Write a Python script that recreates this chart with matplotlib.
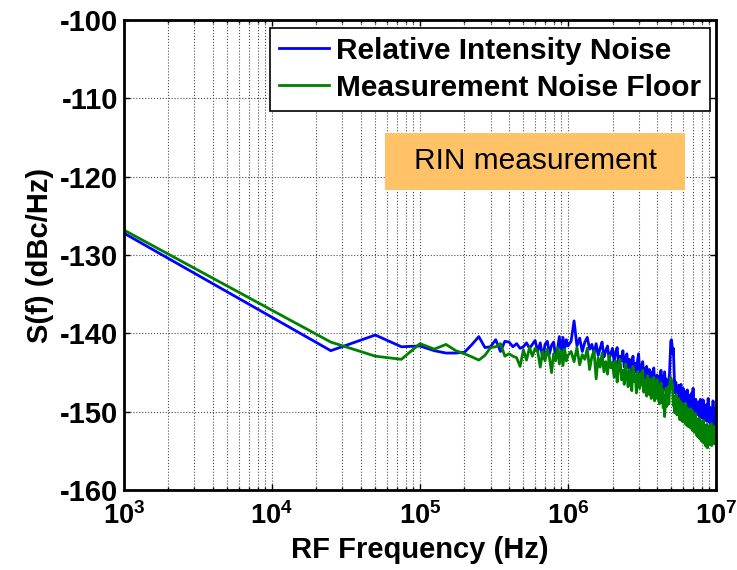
import matplotlib
matplotlib.use("Agg")
import matplotlib.pyplot as plt
from matplotlib.patches import Rectangle
from matplotlib.ticker import LogLocator, NullFormatter, FixedLocator

plt.rcParams['font.family'] = ['Liberation Sans', 'DejaVu Sans']
plt.rcParams['axes.unicode_minus'] = False
plt.rcParams['mathtext.fontset'] = 'custom'
plt.rcParams['mathtext.rm'] = 'Liberation Sans:bold'
plt.rcParams['mathtext.bf'] = 'Liberation Sans:bold'

# frequency grid (kHz): one low point, 25 kHz bins up to 1 MHz, 50 kHz bins above
freq_low_khz = [1] + list(range(25, 1001, 25))
freq_high_khz = list(range(1050, 10001, 50))

rin_low = [-127.2, -142.2, -140.2, -141.7, -141.6, -142.2, -142.5, -142.5, -142.4,
           -141.4, -140.4, -141.8, -141.7, -140.8, -142.3, -141.0, -141.1, -141.7,
           -141.3, -141.9, -141.7, -141.2, -141.9, -141.4, -140.9, -142.3, -141.2,
           -143.2, -141.4, -141.0, -142.6, -141.5, -141.1, -142.9, -142.0, -140.4,
           -142.6, -140.5, -142.0, -140.8, -141.6]

floor_low = [-126.8, -141.1, -142.9, -143.3, -141.3, -142.0, -141.4, -142.2, -142.6,
             -143.0, -143.4, -142.8, -141.8, -141.7, -141.3, -142.9, -142.6, -142.9,
             -143.1, -144.2, -142.1, -143.4, -141.8, -142.9, -141.9, -142.3, -144.3,
             -142.3, -143.5, -142.0, -143.1, -145.0, -142.6, -143.5, -141.8, -143.9,
             -142.2, -144.1, -142.0, -143.5, -142.8]

rin_high = [
    -141.0, -138.4, -141.6, -140.6, -142.3, -141.1, -140.5, -142.0, -141.4, -142.6,
    -141.3, -142.8, -141.9, -141.1, -143.0, -142.2, -141.6, -143.4, -142.5, -141.9,
    -143.6, -142.4, -141.8, -143.9, -142.9, -143.5, -142.2, -144.3, -143.1, -142.6,
    -144.4, -143.3, -144.9, -143.7, -142.9, -144.6, -143.8, -145.0, -143.5, -142.6,
    -144.8, -145.5, -144.1, -143.6, -145.4, -144.5, -145.9, -144.2, -145.1, -146.0,
    -144.6, -145.7, -144.9, -146.3, -145.2, -144.4, -146.1, -145.5, -146.6, -145.3,
    -146.4, -145.6, -147.0, -145.9, -144.7, -146.8, -146.0, -147.3, -145.4, -144.9,
    -146.9, -145.8, -147.4, -146.3, -147.1, -146.0, -145.2, -143.1, -141.0, -140.8,
    -141.5, -142.6, -141.9, -144.4, -146.6, -147.6, -146.2, -148.0, -146.9, -147.4,
    -148.2, -146.6, -147.8, -148.6, -147.1, -146.5, -148.4, -147.5, -148.9, -147.0,
    -148.1, -149.0, -147.4, -148.5, -147.9, -149.3, -148.0, -147.2, -148.8, -149.4,
    -148.2, -149.1, -147.9, -148.7, -149.6, -148.4, -147.6, -149.2, -148.5, -147.0,
    -148.6, -149.8, -148.9, -150.1, -149.2, -148.4, -150.3, -149.5, -148.8, -150.0,
    -149.4, -150.4, -148.7, -149.9, -150.6, -149.1, -148.4, -150.2, -149.6, -150.8,
    -149.0, -150.3, -149.8, -148.5, -150.7, -149.3, -151.0, -150.1, -149.4, -150.9,
    -150.2, -149.1, -151.2, -150.4, -149.6, -150.9, -148.3, -150.5, -151.3, -149.9,
    -150.7, -149.4, -151.5, -150.2, -149.8, -151.1, -150.4, -151.8, -149.6, -150.9,
    -148.6, -150.8, -151.6, -149.7, -150.9, -152.0, -150.3, -151.4, -149.5, -151.0]

floor_high = [
    -142.3, -143.6, -141.8, -144.0, -142.7, -143.3, -141.9, -144.6, -143.0, -142.2,
    -145.8, -143.1, -144.3, -142.5, -144.9, -143.6, -145.2, -142.8, -144.4, -143.7,
    -145.6, -143.5, -146.2, -144.1, -143.3, -145.9, -144.7, -146.5, -143.9, -145.2,
    -146.8, -144.6, -145.7, -147.3, -144.2, -146.1, -145.3, -147.6, -144.9, -146.4,
    -147.0, -145.1, -146.6, -144.7, -147.5, -145.9, -146.9, -148.0, -145.4, -146.7,
    -147.8, -145.8, -148.3, -146.4, -147.2, -145.6, -148.6, -146.9, -147.6, -145.9,
    -148.4, -146.7, -149.0, -147.5, -146.3, -148.8, -147.1, -149.5, -147.9, -150.6,
    -148.7, -147.0, -149.3, -148.1, -146.8, -149.0, -147.5, -146.2, -145.6, -145.9,
    -146.4, -147.3, -149.2, -148.0, -150.1, -148.6, -149.7, -147.8, -150.4, -148.9,
    -150.2, -148.3, -149.8, -151.0, -148.7, -150.5, -149.3, -151.2, -149.0, -150.0,
    -151.3, -149.2, -150.6, -148.9, -151.6, -150.1, -149.5, -151.8, -150.3, -149.7,
    -151.9, -150.0, -151.2, -149.6, -152.1, -150.7, -151.5, -149.9, -152.4, -150.8,
    -152.0, -150.4, -152.6, -151.1, -150.2, -152.3, -151.4, -153.0, -150.9, -152.1,
    -153.2, -151.0, -152.5, -150.8, -153.4, -151.6, -152.8, -151.2, -153.7, -151.9,
    -152.6, -151.3, -153.9, -152.2, -151.1, -153.5, -152.0, -154.1, -151.7, -153.2,
    -154.4, -152.1, -153.0, -151.6, -154.6, -152.5, -153.6, -151.9, -154.2, -152.8,
    -153.5, -151.8, -154.0, -152.4, -153.2, -151.5, -154.3, -152.7, -153.8, -152.2,
    -153.9, -151.9, -153.3, -152.6, -154.1, -152.0, -153.5, -151.8, -153.0, -152.5]

freq_hz = [f * 1e3 for f in freq_low_khz + freq_high_khz]
rin = rin_low + rin_high
noise_floor = floor_low + floor_high

y_ticks = [-160, -150, -140, -130, -120, -110, -100]
x_exponents = [3, 4, 5, 6, 7]

fig = plt.figure(figsize=(7.37, 5.70), dpi=100)
ax = fig.add_axes([0.168, 0.140, 0.8035, 0.825])

ax.semilogx(freq_hz, rin, color="#0000FF", lw=2, label="Relative Intensity Noise")
ax.semilogx(freq_hz, noise_floor, color="#008000", lw=2, label="Measurement Noise Floor")

ax.set_xlim(1e3, 1e7)
ax.set_ylim(-160, -100)
ax.set_yticks(y_ticks)
ax.set_yticklabels([str(t) for t in y_ticks], fontsize=21, fontweight="bold")
ax.xaxis.set_major_locator(FixedLocator([10.0 ** e for e in x_exponents]))
ax.xaxis.set_minor_locator(LogLocator(base=10, subs=range(2, 10), numticks=20))
ax.xaxis.set_minor_formatter(NullFormatter())
ax.set_xticklabels([r"$\mathbf{10^{%d}}$" % e for e in x_exponents], fontsize=19.5)

ax.grid(True, which="major", axis="both", ls=":", color="0.3", lw=0.8)
ax.grid(True, which="minor", axis="x", ls=":", color="0.3", lw=0.8)
ax.tick_params(which="both", direction="in", top=True, right=True, width=1)
ax.tick_params(which="major", length=4)
ax.tick_params(which="minor", length=2.5)
ax.tick_params(axis="x", which="major", pad=9)
ax.tick_params(axis="y", which="major", pad=4)
for sp in ax.spines.values():
    sp.set_linewidth(2)

ax.set_xlabel("RF Frequency (Hz)", fontsize=21, fontweight="bold", va="top")
ax.xaxis.set_label_coords(0.5, -0.098)
ax.set_ylabel("S(f) (dBc/Hz)", fontsize=21, fontweight="bold", labelpad=4)

leg = ax.legend(loc="upper right", bbox_to_anchor=(0.99, 0.983), fancybox=False,
                framealpha=1, edgecolor="black", handlelength=1.65, handletextpad=0.25,
                labelspacing=0.3, borderpad=0.3, borderaxespad=0,
                prop={"size": 21.5, "weight": "bold"})
leg.get_frame().set_linewidth(1.2)

# orange annotation box
ax.add_patch(Rectangle((0.441, 0.638), 0.507, 0.121, transform=ax.transAxes,
                       facecolor="#FFC266", edgecolor="none", zorder=4))
ax.text(0.6945, 0.699, "RIN measurement", transform=ax.transAxes, fontsize=21.5,
        ha="center", va="center", zorder=5)

fig.savefig("out.png", dpi=100)
